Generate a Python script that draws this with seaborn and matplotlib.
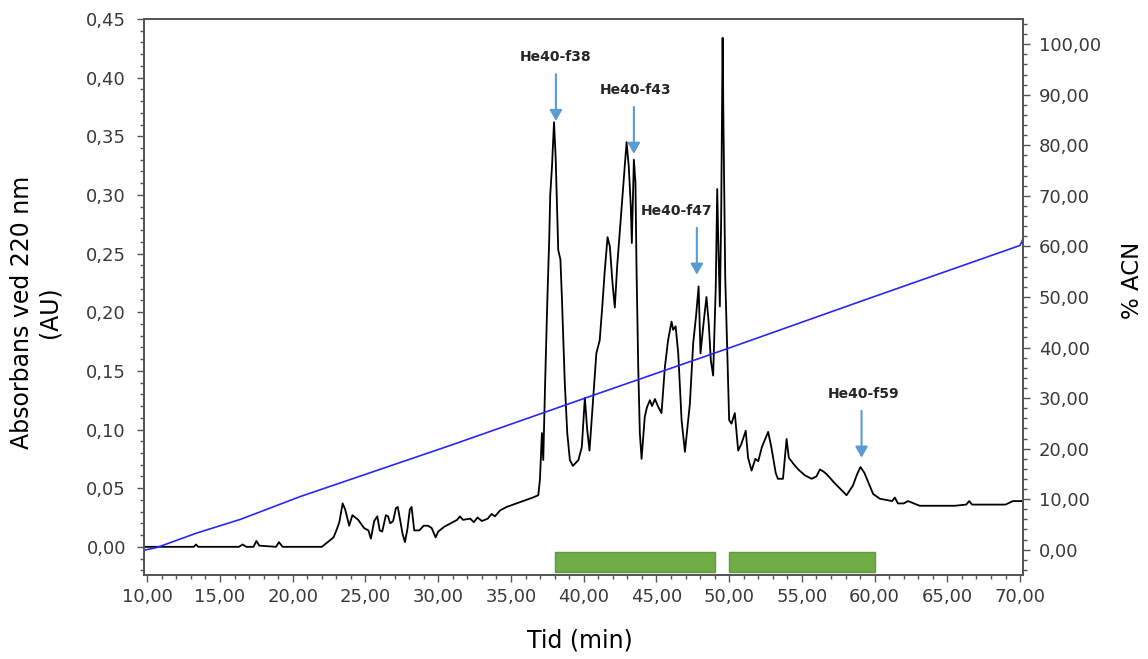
import matplotlib
matplotlib.use("Agg")
import matplotlib.pyplot as plt
from matplotlib.ticker import FuncFormatter, MultipleLocator
import seaborn as sns

# UV trace at 220 nm: retention time (min) and absorbance (AU)
time_min = [
    9.77, 13.2, 13.35, 13.5, 16.3, 16.55, 16.8, 17.3, 17.5, 17.7, 18.85, 19.05, 19.3,
    22.0, 22.4, 22.8, 23.0, 23.2, 23.43, 23.6, 23.88, 24.1, 24.5, 24.9, 25.2, 25.37,
    25.6, 25.81, 25.98, 26.15, 26.4, 26.55, 26.7, 26.9, 27.09, 27.22, 27.35, 27.55,
    27.71, 27.88, 28.05, 28.17, 28.35, 28.7, 29.0, 29.3, 29.55, 29.82, 30.0, 30.4,
    30.85, 31.3, 31.49, 31.7, 32.2, 32.45, 32.7, 33.0, 33.4, 33.67, 33.9, 34.25,
    34.7, 35.15, 35.6, 36.05, 36.5, 36.88, 36.99, 37.13, 37.22, 37.35, 37.5, 37.63,
    37.7, 37.82, 37.96, 38.07, 38.25, 38.4, 38.5, 38.7, 38.87, 39.05, 39.26, 39.64,
    39.87, 40.0, 40.08, 40.24, 40.4, 40.64, 40.87, 41.1, 41.28, 41.44, 41.64, 41.8,
    41.98, 42.14, 42.3, 42.48, 42.66, 42.82, 42.95, 43.1, 43.24, 43.31, 43.45, 43.56,
    43.63, 43.75, 43.86, 43.98, 44.2, 44.35, 44.55, 44.7, 44.9, 45.1, 45.35, 45.58,
    45.8, 46.04, 46.15, 46.32, 46.5, 46.73, 46.96, 47.3, 47.53, 47.72, 47.9, 48.03,
    48.26, 48.44, 48.6, 48.74, 48.9, 49.08, 49.18, 49.27, 49.36, 49.45, 49.55, 49.6,
    49.73, 49.87, 50.0, 50.16, 50.39, 50.62, 50.85, 51.14, 51.3, 51.54, 51.8, 52.0,
    52.25, 52.68, 52.9, 53.2, 53.35, 53.7, 53.95, 54.1, 54.4, 54.75, 55.2, 55.67,
    56.0, 56.24, 56.5, 56.7, 57.2, 57.6, 58.07, 58.5, 58.8, 59.03, 59.3, 59.6, 59.9,
    60.36, 60.8, 61.2, 61.39, 61.6, 62.0, 62.3, 62.7, 63.1, 64.5, 65.5, 66.3, 66.5,
    66.7, 68.0, 69.0, 69.5, 70.2,
]
absorbance_au = [
    0.000, 0.000, 0.002, 0.000, 0.000, 0.002, 0.000, 0.000, 0.005, 0.001, 0.000, 0.004, 0.000,
    0.000, 0.004, 0.008, 0.014, 0.021, 0.037, 0.032, 0.018, 0.027, 0.023, 0.016, 0.014, 0.007,
    0.022, 0.026, 0.014, 0.013, 0.027, 0.026, 0.020, 0.022, 0.033, 0.034, 0.025, 0.011,
    0.004, 0.015, 0.032, 0.034, 0.014, 0.014, 0.018, 0.018, 0.016, 0.008, 0.013, 0.017,
    0.020, 0.023, 0.026, 0.023, 0.024, 0.021, 0.025, 0.022, 0.024, 0.028, 0.026, 0.031,
    0.034, 0.036, 0.038, 0.040, 0.042, 0.044, 0.057, 0.097, 0.074, 0.140, 0.210, 0.262,
    0.300, 0.324, 0.362, 0.333, 0.253, 0.245, 0.213, 0.140, 0.097, 0.074, 0.069, 0.074,
    0.085, 0.111, 0.127, 0.100, 0.082, 0.125, 0.165, 0.176, 0.205, 0.234, 0.264, 0.256,
    0.225, 0.204, 0.239, 0.268, 0.296, 0.324, 0.345, 0.324, 0.290, 0.259, 0.330, 0.310,
    0.239, 0.153, 0.097, 0.075, 0.111, 0.119, 0.125, 0.120, 0.126, 0.120, 0.114, 0.153,
    0.176, 0.192, 0.185, 0.188, 0.165, 0.108, 0.081, 0.122, 0.174, 0.196, 0.222, 0.165,
    0.193, 0.213, 0.190, 0.159, 0.146, 0.222, 0.305, 0.251, 0.205, 0.279, 0.434, 0.371,
    0.230, 0.165, 0.108, 0.105, 0.114, 0.082, 0.088, 0.099, 0.076, 0.065, 0.075, 0.073,
    0.085, 0.098, 0.085, 0.063, 0.058, 0.058, 0.092, 0.076, 0.071, 0.066, 0.061, 0.058,
    0.060, 0.066, 0.064, 0.062, 0.055, 0.050, 0.044, 0.052, 0.062, 0.068, 0.063, 0.054, 0.045,
    0.041, 0.040, 0.039, 0.042, 0.037, 0.037, 0.039, 0.037, 0.035, 0.035, 0.035, 0.036, 0.039,
    0.036, 0.036, 0.036, 0.039, 0.039,
]

# Acetonitrile gradient (% ACN)
gradient_time = [9.77, 10.6, 11.1, 13.4, 16.4, 20.5, 30.8, 41.1, 49.8, 59.4, 70.0, 70.2]
acn_percent = [-0.1, 0.4, 0.9, 3.3, 6.0, 10.5, 20.6, 31.0, 39.7, 49.5, 60.2, 61.5]

# Collected fraction windows (min)
fraction_start = [38.0, 50.0]
fraction_end = [49.0, 60.0]

# Annotated fractions: arrow position (min) and arrow tip height (AU)
peak_labels = ["He40-f38", "He40-f43", "He40-f47", "He40-f59"]
peak_time = [38.09, 43.45, 47.78, 59.10]
peak_tip = [0.363, 0.335, 0.232, 0.076]
label_dx = [0.0, 0.11, -1.37, 0.11]

sns.set_style("ticks")
plt.rcParams["font.family"] = ["DejaVu Sans"]

INK = "#3a3a3a"
SPINE = "#555555"

fig = plt.figure(figsize=(11.48, 6.59), dpi=100)
ax = fig.add_axes([0.1254, 0.1275, 0.7657, 0.8437])
ax2 = ax.twinx()

sns.lineplot(x=time_min, y=absorbance_au, ax=ax, color="black", linewidth=1.3, zorder=3)
sns.lineplot(x=gradient_time, y=acn_percent, ax=ax2, color="#2828F5", linewidth=1.2)

# fraction bars just below the baseline
widths = [e - s for s, e in zip(fraction_start, fraction_end)]
ax.barh(y=[-0.0133] * len(widths), width=widths, left=fraction_start, height=0.017,
        color="#70AD47", edgecolor="#5E9C3A", linewidth=1.0, zorder=2)

for lab, t, tip, dx in zip(peak_labels, peak_time, peak_tip, label_dx):
    start = tip + 0.040
    ax.annotate("", xy=(t, tip), xytext=(t, start),
                arrowprops=dict(arrowstyle="-|>,head_length=0.65,head_width=0.37",
                                color="#5B9BD5", lw=1.5, shrinkA=0, shrinkB=0),
                zorder=5)
    ax.text(t + dx, start + 0.0145, lab, ha="center", va="center",
            fontsize=10, fontweight="bold", color="#262626", zorder=5)

ax.set_xlim(9.77, 70.2)
ax.set_ylim(-0.024, 0.45)
ax2.set_ylim(-5, 105)

ax.xaxis.set_major_locator(MultipleLocator(5))
ax.xaxis.set_minor_locator(MultipleLocator(1))
ax.yaxis.set_major_locator(MultipleLocator(0.05))
ax.yaxis.set_minor_locator(MultipleLocator(0.01))
ax2.yaxis.set_major_locator(MultipleLocator(10))
ax2.yaxis.set_minor_locator(MultipleLocator(2))

comma = FuncFormatter(lambda v, p: f"{v:.2f}".replace(".", ","))
ax.xaxis.set_major_formatter(comma)
ax.yaxis.set_major_formatter(comma)
ax2.yaxis.set_major_formatter(comma)
ax.set_yticks([i * 0.05 for i in range(10)])
ax2.set_yticks([i * 10 for i in range(11)])

for a in (ax, ax2):
    for s in a.spines.values():
        s.set_color(SPINE)
        s.set_linewidth(1.3)
    a.tick_params(which="both", direction="out", color=SPINE, width=1.0, labelcolor=INK)
    a.tick_params(which="major", length=5)
    a.tick_params(which="minor", length=3)

ax.tick_params(axis="x", labelsize=13, pad=4.5, top=False)
ax.tick_params(axis="y", labelsize=13, pad=8, right=False)
ax2.tick_params(axis="y", labelsize=13, pad=6.5)

ax.set_xlabel("Tid (min)", fontsize=17, color="black")
ax.set_ylabel("Absorbans ved 220 nm\n(AU)", fontsize=17, color="black",
              ha="center", linespacing=1.15)
ax2.set_ylabel("% ACN", fontsize=16.5, color="black")
ax.xaxis.set_label_coords(0.496, -0.097)
ax.yaxis.set_label_coords(-0.094, 0.473)
ax2.yaxis.set_label_coords(1.112, 0.53)

fig.savefig("out.png", dpi=100, facecolor="white")
